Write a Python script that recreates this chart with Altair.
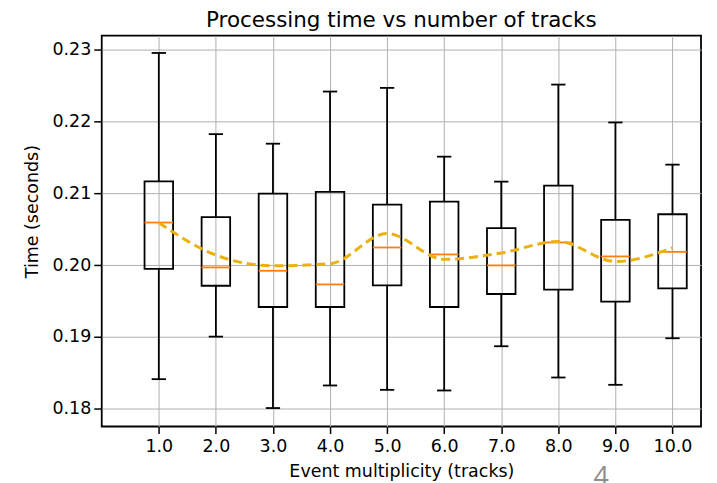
import altair as alt
import pandas as pd

positions = [1, 2, 3, 4, 5, 6, 7, 8, 9, 10]
whisker_low = [0.18410, 0.19003, 0.18007, 0.18322, 0.18261, 0.18252, 0.18869, 0.18433, 0.18331, 0.18980]
q1 = [0.19949, 0.19712, 0.19416, 0.19416, 0.19717, 0.19416, 0.19597, 0.19657, 0.19490, 0.19676]
median = [0.20594, 0.19968, 0.19921, 0.19731, 0.20246, 0.20149, 0.19996, 0.20316, 0.20121, 0.20185]
q3 = [0.21168, 0.20668, 0.20997, 0.21020, 0.20844, 0.20886, 0.20515, 0.21108, 0.20630, 0.20709]
whisker_high = [0.22958, 0.21826, 0.21693, 0.22420, 0.22471, 0.21512, 0.21164, 0.22517, 0.21989, 0.21401]
mean_line = [0.2059, 0.2014, 0.1999, 0.2002, 0.2044, 0.2008, 0.2017, 0.2033, 0.2005, 0.2024]
x_ticks = [1, 2, 3, 4, 5, 6, 7, 8, 9, 10]
y_ticks = [0.18, 0.19, 0.20, 0.21, 0.22, 0.23]
page_number = ["4"]

df = pd.DataFrame({
    "pos": positions, "lo": whisker_low, "q1": q1, "med": median,
    "q3": q3, "hi": whisker_high, "mean": mean_line,
})

FONT = "DejaVu Sans"
xscale = alt.Scale(domain=[0, 10.5], nice=False, zero=False)
yscale = alt.Scale(domain=[0.1775, 0.2320], nice=False, zero=False)
xaxis = alt.Axis(values=x_ticks, format=".1f", title="Event multiplicity (tracks)",
                 grid=True, gridColor="#b0b0b0", gridWidth=1, domain=False,
                 tickColor="black", tickWidth=1.5, tickSize=7, labelPadding=4,
                 labelFont=FONT, labelFontSize=17.5, labelColor="black",
                 titleFont=FONT, titleFontSize=17.5, titleFontWeight="normal",
                 titleColor="black", titlePadding=8)
yaxis = alt.Axis(values=y_ticks, format=".2f", title="Time (seconds)",
                 grid=True, gridColor="#b0b0b0", gridWidth=1, domain=False,
                 tickColor="black", tickWidth=1.5, tickSize=8, labelPadding=3,
                 labelFont=FONT, labelFontSize=17.5, labelColor="black",
                 titleFont=FONT, titleFontSize=17.5, titleFontWeight="normal",
                 titleColor="black", titleX=-69, titleY=176, titleBaseline="middle")

base = alt.Chart(df).transform_calculate(
    bl="datum.pos - 0.25", br="datum.pos + 0.25",
    cl="datum.pos - 0.125", cr="datum.pos + 0.125",
)

def X(field):
    return alt.X(field, type="quantitative", scale=xscale, axis=xaxis)

def Y(field):
    return alt.Y(field, type="quantitative", scale=yscale, axis=yaxis)

boxes = base.mark_rect(fill="white", fillOpacity=0, stroke="black", strokeWidth=1.8).encode(
    x=X("bl:Q"), x2="br:Q", y=Y("q1:Q"), y2="q3:Q")
w_up = base.mark_rule(color="black", strokeWidth=1.8).encode(x=X("pos:Q"), y=Y("q3:Q"), y2="hi:Q")
w_dn = base.mark_rule(color="black", strokeWidth=1.8).encode(x=X("pos:Q"), y=Y("lo:Q"), y2="q1:Q")
cap_up = base.mark_rule(color="black", strokeWidth=1.8).encode(x=X("cl:Q"), x2="cr:Q", y=Y("hi:Q"))
cap_dn = base.mark_rule(color="black", strokeWidth=1.8).encode(x=X("cl:Q"), x2="cr:Q", y=Y("lo:Q"))
med = base.mark_rule(color="#ff7f0e", strokeWidth=1.8).encode(x=X("bl:Q"), x2="br:Q", y=Y("med:Q"))
mean = base.mark_line(color="#ebb10f", strokeWidth=3, strokeDash=[9, 5],
                      interpolate="monotone").encode(x=X("pos:Q"), y=Y("mean:Q"))

pn = alt.Chart(pd.DataFrame({"t": page_number})).mark_text(
    font="Open Sans", fontSize=27, color="#8c8c8c", baseline="alphabetic", align="center"
).encode(text="t:N", x=alt.value(501), y=alt.value(452))

chart = alt.layer(boxes, w_up, w_dn, cap_up, cap_dn, med, mean, pn).properties(
    width=601, height=392,
    title=alt.TitleParams("Processing time vs number of tracks", font=FONT, fontSize=21.5,
                          fontWeight="normal", color="black", offset=4),
    autosize=alt.AutoSizeParams(type="none"),
    padding={"left": 94, "top": 27, "right": 8, "bottom": 60},
).configure_view(stroke="black", strokeWidth=1.8)

chart.save("out.html", embed_options={"renderer": "svg", "actions": False})
